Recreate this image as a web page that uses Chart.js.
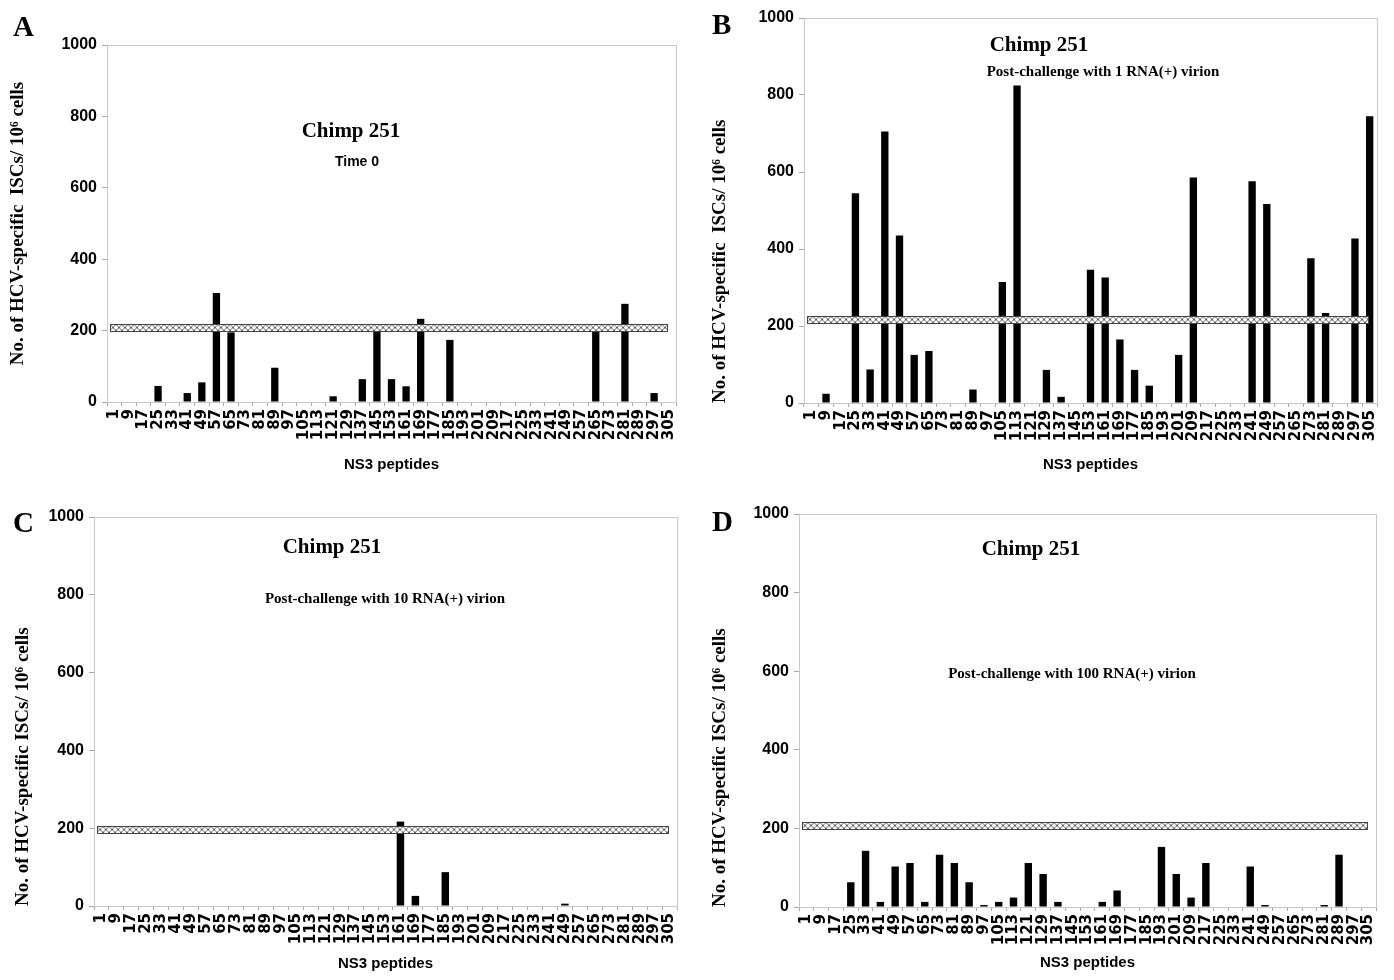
<!DOCTYPE html>
<html>
<head>
<meta charset="utf-8">
<script src="https://cdn.jsdelivr.net/npm/chart.js@4.4.1/dist/chart.umd.min.js"></script>
<style>
  html, body { margin: 0; padding: 0; background: #fff; }
  #page { position: relative; width: 1394px; height: 980px; overflow: hidden; }
  canvas { position: absolute; }
  .tag { position: absolute; font: bold 29px "Liberation Serif", serif; line-height: 1; color: #000; }
</style>
</head>
<body>
<div id="page">
  <canvas id="chartA" width="697" height="490" style="left:0;top:0"></canvas>
  <canvas id="chartB" width="697" height="490" style="left:697px;top:0"></canvas>
  <canvas id="chartC" width="697" height="490" style="left:0;top:490px"></canvas>
  <canvas id="chartD" width="697" height="490" style="left:697px;top:490px"></canvas>
  <div class="tag" style="left:13px;top:12px">A</div>
  <div class="tag" style="left:712px;top:10px">B</div>
  <div class="tag" style="left:13px;top:508px">C</div>
  <div class="tag" style="left:712px;top:507px">D</div>
</div>
<script>
// NS3 peptide start positions (x categories)
const peptides = ['1', '9', '17', '25', '33', '41', '49', '57', '65', '73', '81', '89', '97',
  '105', '113', '121', '129', '137', '145', '153', '161', '169', '177', '185', '193', '201',
  '209', '217', '225', '233', '241', '249', '257', '265', '273', '281', '289', '297', '305'];

// ISCs per 10^6 cells, one value per peptide
const time0 = [0, 0, 0, 45, 0, 25, 55, 305, 195, 0, 0, 96, 0,
  0, 0, 16, 0, 64, 200, 64, 44, 233, 0, 174, 0, 0,
  0, 0, 0, 0, 0, 0, 0, 200, 0, 275, 0, 25, 0];
const oneVirion = [0, 24, 0, 545, 87, 705, 435, 125, 135, 0, 0, 35, 0,
  314, 825, 0, 86, 16, 0, 346, 326, 165, 86, 45, 0, 125,
  586, 0, 0, 0, 576, 517, 0, 0, 376, 234, 0, 427, 745];
const tenVirion = [0, 0, 0, 0, 0, 0, 0, 0, 0, 0, 0, 0, 0,
  0, 0, 0, 0, 0, 0, 0, 217, 26, 0, 87, 0, 0,
  0, 0, 0, 0, 0, 6, 0, 0, 0, 0, 0, 0, 0];
const hundredVirion = [0, 0, 0, 63, 143, 13, 103, 112, 13, 133, 112, 63, 5,
  13, 24, 112, 84, 13, 0, 0, 13, 42, 0, 0, 153, 84,
  24, 112, 0, 0, 103, 5, 0, 0, 0, 5, 133, 0, 0];

// positivity cut-off band (low, high)
const cutoffA = [200, 218];
const cutoffB = [209, 225];
const cutoffC = [188, 206];
const cutoffD = [199, 216];

const yTicks = [0, 200, 400, 600, 800, 1000];

const hatchTile = (function () {
  const c = document.createElement('canvas');
  c.width = 6; c.height = 6;
  const g = c.getContext('2d');
  g.fillStyle = '#fff';
  g.fillRect(0, 0, 6, 6);
  g.strokeStyle = '#5e5e5e';
  g.lineWidth = 1;
  g.beginPath();
  g.moveTo(0, 0); g.lineTo(6, 6);
  g.moveTo(6, 0); g.lineTo(0, 6);
  g.stroke();
  return c;
})();

function framePlugin() {
  return {
    id: 'frame',
    beforeDatasetsDraw(chart) {
      const a = chart.chartArea, ctx = chart.ctx;
      ctx.save();
      ctx.strokeStyle = '#c8c8c8';
      ctx.lineWidth = 1;
      ctx.strokeRect(Math.round(a.left) + 0.5, Math.round(a.top) + 0.5,
        Math.round(a.right - a.left), Math.round(a.bottom - a.top));
      ctx.restore();
    }
  };
}

function bandPlugin(cut) {
  return {
    id: 'cutoffBand',
    afterDatasetsDraw(chart) {
      const ctx = chart.ctx, x = chart.scales.x, y = chart.scales.y;
      const x0 = Math.round(x.left) + 3;
      const x1 = Math.round(x.getPixelForValue(peptides.length - 1)) - 2;
      const y0 = Math.round(y.getPixelForValue(cut[1])) + 0.5;
      const y1 = Math.round(y.getPixelForValue(cut[0])) + 0.5;
      const pat = ctx.createPattern(hatchTile, 'repeat');
      pat.setTransform(new DOMMatrix([1, 0, 0, 1, x0, y0]));
      ctx.save();
      ctx.fillStyle = pat;
      ctx.fillRect(x0, y0, x1 - x0, y1 - y0);
      ctx.strokeStyle = '#444';
      ctx.lineWidth = 1;
      ctx.strokeRect(x0 + 0.5, y0, x1 - x0, y1 - y0);
      ctx.restore();
    }
  };
}

function notesPlugin(list) {
  return {
    id: 'notes',
    afterDraw(chart) {
      const ctx = chart.ctx;
      list.forEach(function (n) {
        ctx.save();
        ctx.font = n.font;
        ctx.fillStyle = '#000';
        ctx.textAlign = 'center';
        ctx.textBaseline = 'alphabetic';
        ctx.fillText(n.text, n.x, n.y);
        ctx.restore();
      });
    }
  };
}

const chimpFont = 'bold 21px "Liberation Serif"';
const subFont = 'bold 15px "Liberation Serif"';

function makeChart(id, values, cut, o) {
  return new Chart(document.getElementById(id), {
    type: 'bar',
    data: {
      labels: peptides,
      datasets: [{
        data: values,
        backgroundColor: '#000',
        borderWidth: 0,
        barPercentage: 0.5,
        categoryPercentage: 1
      }]
    },
    options: {
      responsive: false,
      animation: false,
      layout: { padding: { top: o.top, right: o.right, left: 0, bottom: 0 } },
      plugins: { legend: { display: false }, tooltip: { enabled: false } },
      scales: {
        x: {
          grid: { offset: true, drawOnChartArea: false, drawTicks: true, tickLength: 4, color: '#a8a8a8' },
          border: { color: '#b4b4b4' },
          ticks: {
            autoSkip: false, maxRotation: 90, minRotation: 90, padding: 3, color: '#000',
            font: { family: '"DejaVu Sans"', weight: 'bold', size: 15 }
          },
          title: {
            display: true, text: 'NS3 peptides', color: '#000',
            padding: { top: 0, bottom: o.xPad },
            font: { family: '"Liberation Sans"', weight: 'bold', size: 15 }
          },
          afterFit: function (s) { s.height = o.xh; }
        },
        y: {
          min: 0, max: 1000,
          afterBuildTicks: function (s) { s.ticks = yTicks.map(function (v) { return { value: v }; }); },
          grid: { drawOnChartArea: false, drawTicks: true, tickLength: 5, color: '#a8a8a8' },
          border: { color: '#b4b4b4' },
          ticks: {
            padding: 5, color: '#000',
            font: { family: '"Liberation Sans"', weight: 'bold', size: 16 },
            callback: function (v) { return String(v); }
          },
          title: {
            display: true, text: o.yTitle, align: o.yAlign, color: '#000',
            padding: { top: o.yPad, bottom: 0 },
            font: { family: '"Liberation Serif"', weight: 'bold', size: 19 }
          },
          afterFit: function (s) { s.width = o.left; }
        }
      }
    },
    plugins: [framePlugin(), bandPlugin(cut), notesPlugin(o.notes)]
  });
}

makeChart('chartA', time0, cutoffA, {
  top: 45, right: 21, left: 107, xh: 88, xPad: 16, yPad: 7, yAlign: 'center',
  yTitle: 'No. of HCV-specific  ISCs/ 10\u2076 cells',
  notes: [
    { text: 'Chimp 251', x: 351, y: 137, font: chimpFont },
    { text: 'Time 0', x: 357, y: 166, font: 'bold 14px "Liberation Sans"' }
  ]
});

makeChart('chartB', oneVirion, cutoffB, {
  top: 18, right: 17, left: 107, xh: 87, xPad: 16, yPad: 12, yAlign: 'start',
  yTitle: 'No. of HCV-specific  ISCs/ 10\u2076 cells',
  notes: [
    { text: 'Chimp 251', x: 342, y: 51, font: chimpFont },
    { text: 'Post-challenge with 1 RNA(+) virion', x: 406, y: 76, font: subFont }
  ]
});

makeChart('chartC', tenVirion, cutoffC, {
  top: 27, right: 20, left: 94, xh: 74, xPad: 7, yPad: 12, yAlign: 'start',
  yTitle: 'No. of HCV-specific ISCs/ 10\u2076 cells',
  notes: [
    { text: 'Chimp 251', x: 332, y: 63, font: chimpFont },
    { text: 'Post-challenge with 10 RNA(+) virion', x: 385, y: 113, font: subFont }
  ]
});

makeChart('chartD', hundredVirion, cutoffD, {
  top: 24, right: 18, left: 102, xh: 73, xPad: 8, yPad: 12, yAlign: 'start',
  yTitle: 'No. of HCV-specific ISCs/ 10\u2076 cells',
  notes: [
    { text: 'Chimp 251', x: 334, y: 65, font: chimpFont },
    { text: 'Post-challenge with 100 RNA(+) virion', x: 375, y: 188, font: subFont }
  ]
});
</script>
</body>
</html>
